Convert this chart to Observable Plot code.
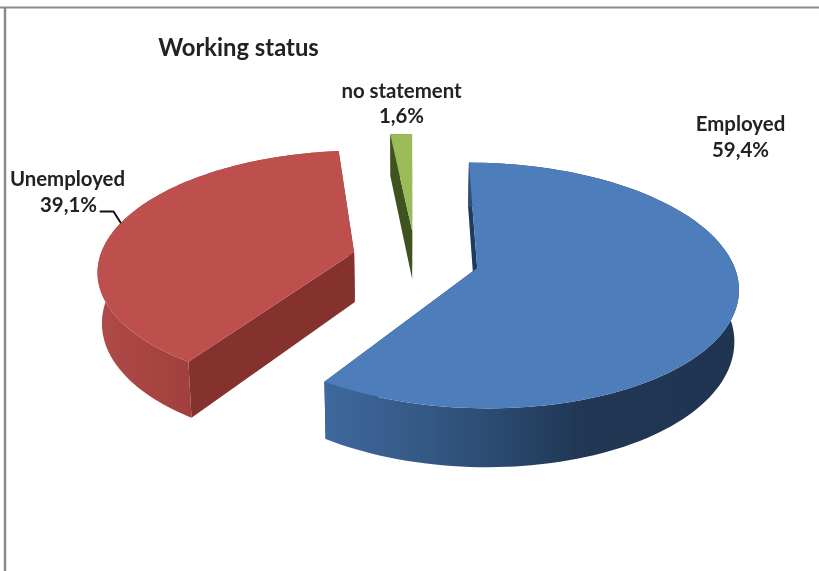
<!DOCTYPE html>
<html>
<head>
<meta charset="utf-8">
<script src="https://cdn.jsdelivr.net/npm/d3@7"></script>
<script src="https://cdn.jsdelivr.net/npm/@observablehq/plot@0.6"></script>
<style>
html,body{margin:0;padding:0;background:#fff;overflow:hidden}
svg text{filter:blur(.35px)}
</style>
</head>
<body>
<div id="chart"></div>
<script>
const categories = ["Employed", "Unemployed", "no statement"];
const shares = [59.4, 39.1, 1.6];
const shareLabels = ["59,4%", "39,1%", "1,6%"];
const faceColors = ["#4d7ebb", "#bd4f4d", "#9bbb59"];
const wallColors = ["#1d3a60", "#85322f", "#3f5320"];
const rimColors = ["url(#rimBlue)", "url(#rimRed)", "#3f5320"];
const titleText = "Working status";

// perspective view of the pie
const W = 819, H = 571;
const view = {ox: 415, oy: 259, vanish: 410, A: 255, B: 118, k: 0.14, explode: 0.25, depth: 50, shrink: 0.014};
const rad = d => d * Math.PI / 180;
const total = d3.sum(shares);

function proj(X, Y, down) {
  const w = 1 + view.k * Y;
  let x = view.vanish + (view.ox - view.vanish + view.A * X) / w;
  let y = view.oy - view.B * Y / w;
  if (down) {
    x = view.vanish + (x - view.vanish) * (1 - view.shrink);
    y += view.depth / w;
  }
  return [x, y];
}

let cum = 0;
const slices = shares.map((s, i) => {
  const t0 = cum / total * 360;
  cum += s;
  const t1 = cum / total * 360;
  const mid = (t0 + t1) / 2;
  const ex = view.explode * Math.sin(rad(mid));
  const ey = view.explode * Math.cos(rad(mid));
  const rim = (t, down) => proj(ex + Math.sin(rad(t)), ey + Math.cos(rad(t)), down);
  const apex = down => proj(ex, ey, down);
  const ts = d3.range(0, 121).map(j => t0 + (t1 - t0) * j / 120);
  return {
    face: [apex(false), ...ts.map(t => rim(t, false))],
    band: [...ts.map(t => rim(t, false)), ...ts.slice().reverse().map(t => rim(t, true))],
    wall0: [rim(t0, false), apex(false), apex(true), rim(t0, true)],
    wall1: [rim(t1, false), apex(false), apex(true), rim(t1, true)],
    i
  };
});

const poly = (pts, fill) => Plot.line(pts, {x: d => d[0], y: d => d[1], fill, stroke: "none", curve: "linear"});

const gradient = (defs, id, x1, x2, stops) => {
  const g = defs.append("linearGradient").attr("id", id).attr("gradientUnits", "userSpaceOnUse")
    .attr("x1", x1).attr("x2", x2).attr("y1", 0).attr("y2", 0);
  stops.forEach(([o, c]) => g.append("stop").attr("offset", o).attr("stop-color", c));
};
const defsMark = () => {
  const defs = d3.create("svg:defs");
  gradient(defs, "rimBlue", 322, 737, [[0, "#3e689e"], [0.2, "#375c8a"], [0.42, "#2b4a70"], [0.62, "#213754"], [1, "#1f3450"]]);
  gradient(defs, "rimRed", 100, 195, [[0, "#ae4a48"], [1, "#a03f3d"]]);
  return defs.node();
};

const font = "Lato, 'Noto Sans', sans-serif";
const label = (text, px, py, opts = {}) => Plot.text([text], {
  frameAnchor: "top-left", dx: px, dy: py, text: d => d,
  fontFamily: font, fontWeight: 700, fontSize: 20.4, fill: "#222", textAnchor: "middle", lineAnchor: "middle", ...opts
});

const marks = [defsMark];
slices.forEach(s => {
  marks.push(poly(s.wall1, wallColors[s.i]));
  marks.push(poly(s.wall0, wallColors[s.i]));
  marks.push(poly(s.band, rimColors[s.i]));
  marks.push(poly(s.face, faceColors[s.i]));
});
marks.push(
  Plot.ruleY([7], {stroke: "#8a8a8a", strokeWidth: 2}),
  Plot.ruleX([4.5], {y1: 7, y2: H, stroke: "#8a8a8a", strokeWidth: 2.5}),
  Plot.line([[100, 211], [113, 211], [120, 222]], {x: d => d[0], y: d => d[1], stroke: "#111", strokeWidth: 2, curve: "linear"}),
  label(titleText, 238, 48, {fontSize: 23.8}),
  label(categories[0], 740, 124),
  label(shareLabels[0], 740, 150),
  label(categories[1], 67, 179),
  label(shareLabels[1], 68, 205),
  label(categories[2], 401, 91),
  label(shareLabels[2], 401, 116)
);

const chart = Plot.plot({
  width: W, height: H, margin: 0,
  x: {domain: [0, W], range: [0, W], axis: null},
  y: {domain: [0, H], range: [0, H], axis: null},
  style: {background: "#fff"},
  marks
});
document.getElementById("chart").append(chart);
</script>
</body>
</html>
